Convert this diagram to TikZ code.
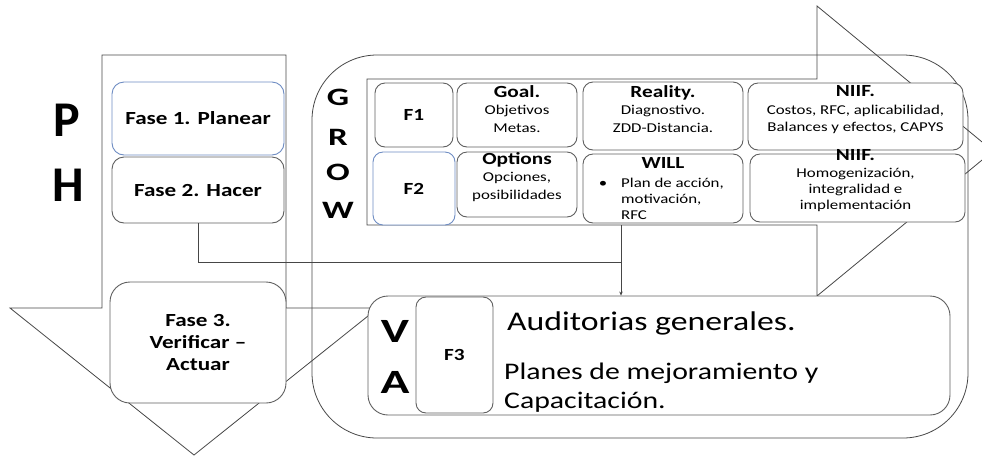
\documentclass[tikz,border=0pt]{standalone}
\usepackage{fontspec}
\setmainfont[FakeStretch=1.25]{Carlito}
\newfontfamily\bigletters[FakeStretch=1.4]{Carlito}
\newfontfamily\plainletters{Carlito}
\usetikzlibrary{arrows.meta}
\definecolor{edgegray}{RGB}{95,95,95}
\definecolor{linegray}{RGB}{70,70,70}
\definecolor{boxblue}{RGB}{110,140,195}
\newcommand{\fsz}[2]{\fontsize{#1}{#2}\selectfont}
\begin{document}
\begin{tikzpicture}[x=1pt,y=-1pt,
  outline/.style={draw=linegray, line width=0.8pt},
  rbox/.style={draw=edgegray, fill=white, line width=0.9pt, rounded corners=#1, inner sep=0pt},
  bluebox/.style={rbox=#1, draw=boxblue},
  txt/.style={inner sep=0pt, align=center, text=black, font=\fsz{13.5}{17.5}},
  fasetxt/.style={align=center, text=black, font=\bfseries\fsz{18.5}{22}},
  bigletter/.style={inner sep=0pt, text=black, font=\bigletters\bfseries\fsz{25}{25}},
  phletter/.style={inner sep=0pt, text=black, font=\plainletters\bfseries\fsz{50}{50}},
  valetter/.style={inner sep=0pt, text=black, font=\bigletters\bfseries\fsz{34}{34}},
  link/.style={draw=linegray, line width=0.6pt}
]
\clip (0,0) rectangle (982,456);
% big rounded frame
\draw[outline, rounded corners=65pt] (312,55) rectangle (968,438);
% down arrow (PHVA)
\draw[outline] (102,55) -- (286,55) -- (286,308) -- (378,308) -- (194,455) -- (10,308) -- (102,308) -- cycle;
% right arrow (GROW)
\draw[outline] (367,79) -- (817,79) -- (817,6) -- (993,151) -- (817,296) -- (817,225) -- (367,225) -- cycle;

% left column boxes
\node[bluebox=12pt, minimum width=172pt, minimum height=73pt, fasetxt] (fase1) at (198,118.5) {Fase 1. Planear};
\node[rbox=12pt, minimum width=172pt, minimum height=66pt, fasetxt] (fase2) at (198,190) {Fase 2. Hacer};
\node[rbox=20pt, minimum width=176pt, minimum height=121pt, fasetxt] (fase3) at (198,342.5) {Fase 3.\\Verificar --\\Actuar};

% connectors
\coordinate (joint) at (621,262);
\coordinate (drop) at (621,225);
\draw[link] (fase2.south) |- (joint);

% GROW boxes
\node[rbox=10pt, minimum width=78pt, minimum height=64pt, font=\bfseries\fsz{17}{20}] (f1) at (414,115) {F1};
\node[rbox=10pt, minimum width=120pt, minimum height=64pt] (goal) at (517,115) {};
\node[rbox=10pt, minimum width=160pt, minimum height=68pt] (reality) at (663,116) {};
\node[rbox=10pt, minimum width=215pt, minimum height=67pt] (niif1) at (855.5,116.5) {};
\node[bluebox=10pt, minimum width=82pt, minimum height=73pt, font=\bfseries\fsz{17}{20}] (f2) at (414,188.5) {F2};
\node[rbox=10pt, minimum width=120pt, minimum height=65pt] (options) at (517,184.5) {};
\node[rbox=10pt, minimum width=160pt, minimum height=69pt] (will) at (663,188.5) {};
\node[rbox=10pt, minimum width=215pt, minimum height=68pt] (niif2) at (857.5,188) {};

% VA box
\node[rbox=20pt, minimum width=582pt, minimum height=119pt] (va) at (659,355.5) {};
\node[rbox=10pt, minimum width=77pt, minimum height=116pt, font=\bfseries\fsz{17}{20}] (f3) at (454.5,355) {F3};
\draw[link, -{Stealth[length=4pt,width=3.5pt]}] (drop) -- (va.north -| drop);

% texts in GROW boxes
\node[txt] at (517,109) {{\bfseries\fsz{17}{17.5}Goal.}\\Objetivos\\Metas.};
\node[txt] at (663,109) {{\bfseries\fsz{17}{17.5}Reality.}\\Diagnostivo.\\ZDD-Distancia.};
\node[txt] at (855.5,110) {{\bfseries\fsz{17}{17.5}NIIF.}\\Costos, RFC, aplicabilidad,\\Balances y efectos, CAPYS};
\node[txt] at (517,177) {{\bfseries\fsz{17}{18}Options}\\Opciones,\\posibilidades};
\node[txt, font=\bfseries\fsz{17}{18}] at (663,163) {WILL};
\node[txt, align=left, anchor=west, font=\fsz{13.5}{16}] at (621,199) {\makebox[0pt][r]{\textbullet\hspace{14pt}}Plan de acción,\\motivación,\\RFC};
\node[txt, font=\fsz{13.5}{16}] at (855.5,181) {{\bfseries\fsz{17}{18}NIIF.}\\[1pt]Homogenización,\\integralidad e\\implementación};

% VA texts
\node[txt, anchor=west, font=\fsz{27}{30}] at (507,323) {Auditorias generales.};
\node[txt, anchor=west, align=left, font=\fsz{23.8}{29}] at (504,388) {Planes de mejoramiento y\\Capacitación.};

% big letters
\node[phletter] at (67,120) {P};
\node[phletter] at (68,185) {H};
\node[bigletter] at (338,97) {G};
\node[bigletter] at (338,137) {R};
\node[bigletter] at (338,172) {O};
\node[bigletter] at (338,210) {W};
\node[valetter] at (395,331) {V};
\node[valetter] at (395,382) {A};
\end{tikzpicture}
\end{document}
